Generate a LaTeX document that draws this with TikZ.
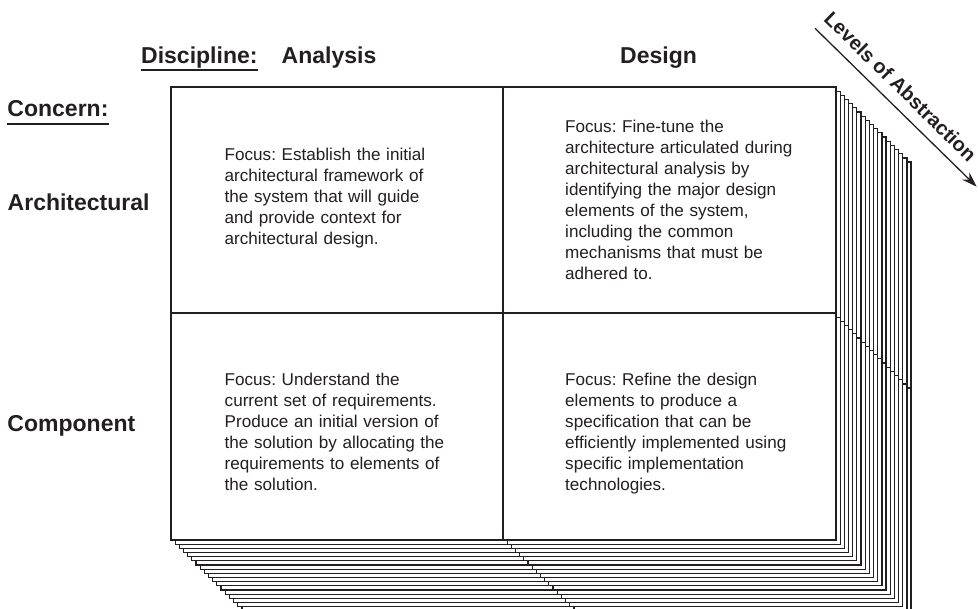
\documentclass[tikz,border=0pt]{standalone}
\usepackage{fontspec}
\setmainfont{Liberation Sans}
\usetikzlibrary{arrows.meta}
\definecolor{ink}{RGB}{35,31,32}
\frenchspacing
\begin{document}
\begin{tikzpicture}[x=1pt,y=-1pt,
  head/.style={font=\fontsize{23}{27}\selectfont\bfseries, text=ink, inner sep=0pt, anchor=base west},
  body/.style={font=\fontsize{17.1}{21}\selectfont, text=ink, inner sep=0pt, anchor=base west, text width=300pt, align=left},
  gridbox/.style={draw=ink, line width=1.25pt, fill=white},
  gridline/.style={draw=ink, line width=1.25pt},
  uline/.style={draw=ink, line width=1.8pt},
  arr/.style={draw=ink, line width=1.3pt, -{Stealth[length=15pt,width=10pt]}}]
\useasboundingbox (0,0) rectangle (978,609);
\begin{scope}
\clip (0,0) rectangle (978,609);
\foreach \k in {18,17,...,0}{
  \pgfmathsetmacro{\o}{\k*4.17}
  \draw[gridbox] (171+\o,87+\o) rectangle (836+\o,540+\o);
  \draw[gridline] (503+\o,87+\o) -- (503+\o,540+\o) (171+\o,313+\o) -- (836+\o,313+\o);
}
\end{scope}

% headings
\node[head] (disc) at (141,63.3) {Discipline:};
\node[head] (ana) at (281.5,63.3) {Analysis};
\node[head] (des) at (620,63.3) {Design};
\node[head] (conc) at (7.3,116.7) {Concern:};
\node[head] (arch) at (7.5,211) {Architectural};
\node[head] (comp) at (7.3,431.7) {Component};
\draw[uline] ([yshift=-6.8pt]disc.base west) -- ([yshift=-6.8pt]disc.base east);
\draw[uline] ([yshift=-7.2pt]conc.base west) -- ([yshift=-7.2pt]conc.base east);

% cell texts
\node[body] (tl) at (224.5,161) {Focus: Establish the initial\\architectural framework of\\the system that will guide\\and provide context for\\architectural design.};
\node[body] (tr) at (565,133) {Focus: Fine-tune the\\architecture articulated during\\architectural analysis by\\identifying the major design\\elements of the system,\\including the common\\mechanisms that must be\\adhered to.};
\node[body] (bl) at (224.5,385.5) {Focus: Understand the\\current set of requirements.\\Produce an initial version of\\the solution by allocating the\\requirements to elements of\\the solution.};
\node[body] (br) at (565,385.5) {Focus: Refine the design\\elements to produce a\\specification that can be\\efficiently implemented using\\specific implementation\\technologies.};

% levels of abstraction arrow
\coordinate (arrS) at (815,28.3);
\coordinate (arrE) at (976.7,186.7);
\draw[arr] (arrS) -- (arrE);
\node[font=\fontsize{20}{24}\selectfont\bfseries, text=ink, inner sep=0pt, anchor=base, rotate=-44.5] (lvl) at (895.5,91.5) {Levels of Abstraction};
\end{tikzpicture}
\end{document}
